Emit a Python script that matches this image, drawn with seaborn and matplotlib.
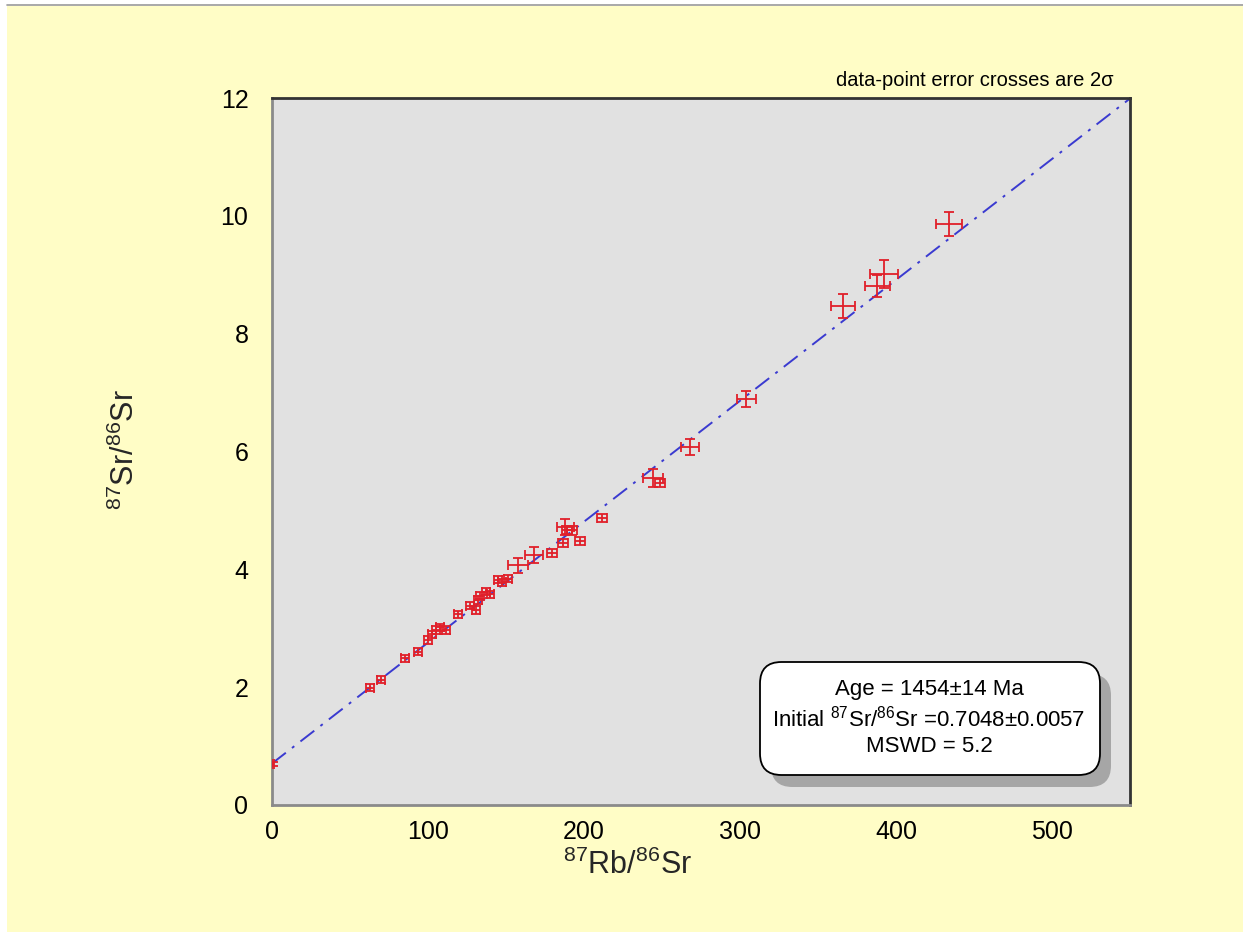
import matplotlib
matplotlib.use("Agg")
import matplotlib.pyplot as plt
import seaborn as sns
import numpy as np
import pandas as pd
from matplotlib.patches import FancyBboxPatch, Rectangle
from matplotlib.lines import Line2D
from matplotlib.ticker import MultipleLocator

# ---- data ----
rb_sr = [0.5, 63, 70, 85.4, 93.7, 100, 102.7, 105, 107.8, 111.7, 119.4, 127, 131, 132,
         133.5, 137, 140, 145, 147.6, 151.5, 158, 168, 179.7, 186.8, 188, 189.3, 192,
         197.7, 211.8, 244.5, 249, 268, 304, 366, 388, 392.5, 434]
sr_sr = [0.70, 1.99, 2.13, 2.49, 2.60, 2.80, 2.90, 2.97, 3.02, 2.97, 3.24, 3.38, 3.31, 3.48,
         3.55, 3.62, 3.58, 3.82, 3.78, 3.84, 4.07, 4.24, 4.28, 4.45, 4.72, 4.67, 4.66,
         4.48, 4.87, 5.55, 5.47, 6.08, 6.89, 8.47, 8.81, 9.01, 9.86]
x_err = [0.8, 2.5, 2.5, 2.5, 2.5, 2.5, 2.5, 2.5, 2.5, 2.5, 2.5, 2.5, 2.5, 2.5,
         2.5, 2.5, 2.5, 2.5, 2.5, 2.5, 6.4, 6.0, 3.2, 3.2, 5.3, 3.2, 3.2,
         3.2, 3.2, 6.4, 3.2, 5.9, 6.0, 7.5, 8.0, 9.0, 8.5]
y_err = [0.03, 0.06, 0.06, 0.06, 0.06, 0.06, 0.06, 0.06, 0.06, 0.06, 0.06, 0.06, 0.06, 0.06,
         0.06, 0.06, 0.06, 0.06, 0.06, 0.06, 0.13, 0.14, 0.07, 0.07, 0.14, 0.07, 0.07,
         0.07, 0.07, 0.16, 0.07, 0.14, 0.13, 0.20, 0.19, 0.24, 0.20]

fit_intercept = 0.7048
fit_slope = 0.02052
x_ticks = [0, 100, 200, 300, 400, 500]
y_ticks = [0, 2, 4, 6, 8, 10, 12]
info_lines = ["Age = 1454±14 Ma",
              "Initial $^{87}$Sr/$^{86}$Sr =0.7048±0.0057",
              "MSWD = 5.2"]

df = pd.DataFrame({"x": rb_sr, "y": sr_sr, "xe": x_err, "ye": y_err})

# ---- style ----
sns.set_theme(style="white")
plt.rcParams["font.family"] = ["Liberation Sans", "DejaVu Sans"]
plt.rcParams["mathtext.fontset"] = "custom"
plt.rcParams["mathtext.rm"] = "Liberation Sans"
plt.rcParams["mathtext.it"] = "Liberation Sans:italic"
plt.rcParams["mathtext.bf"] = "Liberation Sans:bold"

W, H = 1243, 932
fig = plt.figure(figsize=(W / 100, H / 100), dpi=100, facecolor="white")

# yellow page background
fig.patches.append(Rectangle((7 / W, 0), 1 - 7 / W, 1 - 6 / H, transform=fig.transFigure,
                             facecolor="#FFFDC6", edgecolor="none", zorder=-10))
fig.lines.append(Line2D([7 / W, 1], [1 - 5 / H, 1 - 5 / H], transform=fig.transFigure,
                        color="#999999", lw=1.2))

ax = fig.add_axes([272 / W, 1 - 805 / H, (1130 - 272) / W, (805 - 98) / H])
ax.set_facecolor("#E1E1E1")

# regression line
xl = np.array([0, 550])
ax.plot(xl, fit_intercept + fit_slope * xl, color="#3A3AD0", lw=1.4,
        linestyle=(0, (9, 4, 1.5, 4)), zorder=2)

# error crosses
ax.errorbar(df["x"], df["y"], xerr=df["xe"], yerr=df["ye"], fmt="none",
            ecolor="#E0202A", elinewidth=1.3, capsize=3.5, capthick=1.3, zorder=3)
sns.scatterplot(data=df, x="x", y="y", ax=ax, s=2, color="#E0202A",
                edgecolor="none", zorder=4, legend=False)

ax.set_xlim(0, 550)
ax.set_ylim(0, 12)
ax.set_xticks(x_ticks)
ax.set_yticks(y_ticks)
ax.xaxis.set_minor_locator(MultipleLocator(50))
ax.yaxis.set_minor_locator(MultipleLocator(1))
ax.tick_params(axis="both", which="both", direction="in", length=5, width=1,
               color="#777777", labelsize=18, labelcolor="black")
ax.tick_params(axis="x", which="major", pad=11)
ax.tick_params(axis="y", which="major", pad=17)
ax.tick_params(top=False, right=False, which="both")

for side in ["left", "bottom"]:
    ax.spines[side].set_color("#8A8A8A")
    ax.spines[side].set_linewidth(2)
for side in ["top", "right"]:
    ax.spines[side].set_color("#333333")
    ax.spines[side].set_linewidth(2)

ax.set_xlabel("$^{87}$Rb/$^{86}$Sr", fontsize=22)
ax.set_ylabel("$^{87}$Sr/$^{86}$Sr", fontsize=22)
ax.xaxis.set_label_coords(0.415, -0.063)
ax.yaxis.set_label_coords(-0.153, 0.502)

fig.text(1113 / W, 1 - 80 / H, "data-point error crosses are 2σ", ha="right", va="center",
         fontsize=14.5, color="black")

# info box with shadow
bx0, bx1 = (760 - 272) / 858, (1100 - 272) / 858
by0, by1 = (805 - 775) / 707, (805 - 662) / 707
shx, shy = 11 / 858, -12 / 707
shadow = FancyBboxPatch((bx0 + shx, by0 + shy), bx1 - bx0, by1 - by0,
                        boxstyle="round,pad=0,rounding_size=0.025", transform=ax.transAxes,
                        facecolor="#A6A6A6", edgecolor="none", zorder=5, mutation_aspect=858 / 707)
box = FancyBboxPatch((bx0, by0), bx1 - bx0, by1 - by0,
                     boxstyle="round,pad=0,rounding_size=0.025", transform=ax.transAxes,
                     facecolor="white", edgecolor="black", lw=1.3, zorder=6,
                     mutation_aspect=858 / 707)
ax.add_patch(shadow)
ax.add_patch(box)
cx = (929 - 272) / 858
for line, py in zip(info_lines, [690, 719, 747]):
    ax.text(cx, (805 - py) / 707, line, transform=ax.transAxes, ha="center", va="center",
            fontsize=16, color="black", zorder=7)

fig.savefig("out.png", dpi=100, facecolor=fig.get_facecolor())
